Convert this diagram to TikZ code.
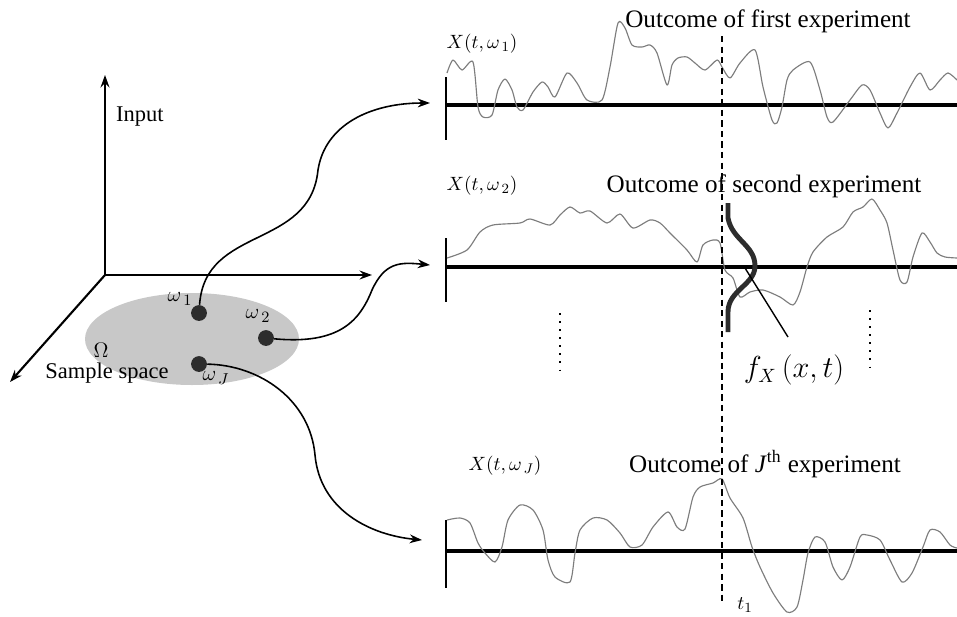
\documentclass[tikz,border=0pt]{standalone}
\usepackage{amsmath}
\usepackage{fontspec}
\setmainfont{Liberation Serif}
\usetikzlibrary{arrows.meta}

\definecolor{ovalgray}{RGB}{200,200,200}
\definecolor{dotgray}{RGB}{45,45,45}
\definecolor{wavegray}{RGB}{125,125,125}

\tikzset{
  axis/.style={line width=1.2pt,-{Stealth[length=7pt,width=5pt]}},
  link/.style={line width=0.9pt,-{Stealth[length=7pt,width=5pt]}},
  timeline/.style={line width=2.8pt},
  tickline/.style={line width=1.6pt},
  wave/.style={wavegray,line width=0.65pt,line join=round},
  sample/.style={circle,fill=dotgray,inner sep=0pt,minimum size=9pt},
  bigtext/.style={font=\fontsize{14.3}{17}\selectfont},
  midtext/.style={font=\fontsize{12.8}{15}\selectfont},
  smalltext/.style={font=\fontsize{11}{13}\selectfont},
}

\begin{document}
\begin{tikzpicture}[x=0.02cm,y=-0.02cm,>=stealth]
\useasboundingbox (0,0) rectangle (957,616);
% sample space
\fill[ovalgray] (192,339) ellipse [x radius=107,y radius=46];
\coordinate (O) at (105,275);
\draw[axis] (O) -- (105,75);
\draw[axis] (O) -- (372,275);
\draw[axis] (O) -- (10,382);
\node[midtext,anchor=west] (input) at (110,117) {Input};
\node[midtext] (omega) at (101,350) {$\Omega$};
\node[midtext] (space) at (107,373) {Sample space};

\node[sample] (w1) at (199,313) {};
\node[sample] (w2) at (266,338) {};
\node[sample] (wJ) at (199,364) {};
\node[midtext] (l1) at (180,299) {$\omega_{\,1}$};
\node[midtext] (l2) at (258,316) {$\omega_{\,2}$};
\node[midtext] (lJ) at (216,378) {$\omega_{\,J}$};

% time axes
\coordinate (s1) at (430,103);
\coordinate (s2) at (430,265);
\coordinate (sJ) at (422,540);
\draw[timeline] (446,105) -- (957,105);
\draw[tickline] (446,77) -- (446,140);
\draw[timeline] (446,267) -- (957,267);
\draw[tickline] (446,238) -- (446,302);
\draw[timeline] (446,551) -- (957,551);
\draw[tickline] (446,520) -- (446,588);

% realisations
\draw[wave] plot[smooth,tension=0.45] coordinates {(447,73) (453,60) (462,70) (473,62) (478,107) (483,117) (492,115) (498,90) (505,79) (512,90) (517,107) (523,110) (533,92) (542,82) (548,87) (555,97) (567,73) (577,83) (587,100) (602,100) (610,67) (618,23) (625,28) (632,45) (642,47) (650,45) (657,53) (667,85) (672,65) (678,58) (687,57) (695,63) (705,70) (717,60) (722,67) (730,78) (740,63) (755,50) (763,87) (772,120) (777,123) (782,107) (787,80) (793,70) (810,62) (820,90) (827,117) (833,122) (850,100) (862,85) (870,90) (880,113) (888,128) (897,113) (910,87) (920,73) (930,90) (940,80) (948,73) (957,80)};
\draw[wave] plot[smooth,tension=0.45] coordinates {(447,258) (467,250) (480,232) (493,225) (520,223) (530,219) (550,225) (560,215) (570,207) (580,213) (590,211) (607,223) (620,214) (633,228) (650,220) (660,223) (670,233) (687,250) (697,262) (703,245) (713,240) (720,243) (725,270) (733,278) (740,297) (750,292) (763,290) (780,297) (793,305) (800,292) (807,267) (813,252) (827,237) (843,227) (853,212) (863,207) (872,199) (880,210) (887,223) (893,250) (900,280) (907,282) (913,257) (922,233) (930,242) (937,253) (945,257) (957,258)};
\draw[wave] plot[smooth,tension=0.45] coordinates {(447,520) (460,518) (470,523) (478,543) (485,553) (495,562) (502,547) (508,520) (520,505) (533,510) (543,530) (548,560) (555,577) (570,582) (575,553) (580,530) (593,518) (607,520) (620,533) (630,547) (642,545) (653,527) (668,512) (677,527) (685,529) (693,497) (700,487) (713,483) (722,479) (730,498) (743,518) (752,547) (760,567) (773,593) (787,612) (797,607) (803,580) (808,553) (815,537) (825,542) (833,567) (842,580) (850,567) (860,537) (867,535) (880,540) (890,560) (902,582) (912,573) (923,547) (930,530) (940,532) (950,545) (957,548)};

\node[smalltext] (x1) at (482,44) {$X(t,\omega_{\,1})$};
\node[smalltext] (x2) at (482,186) {$X(t,\omega_{\,2})$};
\node[smalltext] (xJ) at (505,466) {$X(t,\omega_{\,J})$};
\node[bigtext] (o1) at (768,21) {Outcome of first experiment};
\node[bigtext] (o2) at (764,186) {Outcome of second experiment};
\node[bigtext] (oJ) at (765,464) {Outcome of \textit{J}\textsuperscript{th}\ experiment};

% time instant and density
\draw[line width=1.1pt,dash pattern=on 3.6pt off 2.4pt] (722,36) -- (722,602);
\node[smalltext] (t1) at (745,605) {$t_1$};
\draw[dotgray,line width=2.8pt] (728,203) -- (728,218) .. controls (732,240) and (755,245) .. (755,266) .. controls (755,285) and (728,290) .. (728,312) -- (728,332);
\draw[line width=1.2pt,dash pattern=on 1pt off 3.6pt] (560,313) -- (560,373);
\draw[line width=1.2pt,dash pattern=on 1pt off 3.6pt] (870,310) -- (870,370);
\node[font=\fontsize{16}{19}\selectfont] (fx) at (794,370) {$f_X\,(x,t)$};
\coordinate (peak) at (745,268);
\draw[line width=0.8pt] (peak) -- (788,337);

% mapping from outcomes to realisations
\draw[link] (w1) .. controls (205,225) and (310,250) .. (318,170) .. controls (325,125) and (370,103) .. (s1);
\draw[link] (w2) .. controls (340,345) and (360,320) .. (372,290) .. controls (385,262) and (400,262) .. (s2);
\draw[link] (wJ) .. controls (260,365) and (310,400) .. (315,455) .. controls (320,510) and (370,535) .. (sJ);
\end{tikzpicture}
\end{document}
